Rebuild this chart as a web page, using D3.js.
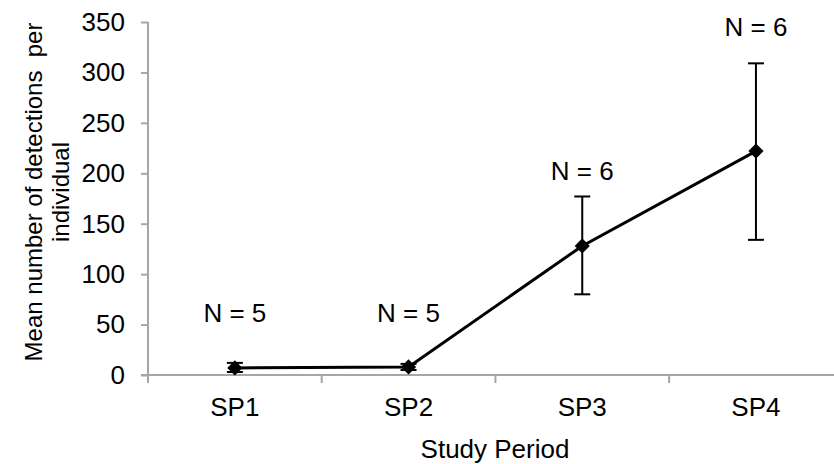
<!DOCTYPE html>
<meta charset="utf-8">
<style>

body {
  margin: 0;
  background: #fff;
}

text {
  font-family: "Liberation Sans", Arial, sans-serif;
  fill: #000;
}

</style>
<body>
<script src="https://d3js.org/d3.v7.min.js"></script>
<script>

var periods = ["SP1", "SP2", "SP3", "SP4"],
    means = [7, 8, 128, 222],
    upper = [12, 11, 177, 309],
    lower = [3, 5, 80, 134],
    sampleLabels = ["N = 5", "N = 5", "N = 6", "N = 6"],
    labelAt = [53, 53, 193, 336],
    yTicks = [0, 50, 100, 150, 200, 250, 300, 350];

var width = 834,
    height = 464,
    plotLeft = 148,
    plotTop = 22,
    plotBottom = 375,
    fontSize = "26px";

var svg = d3.select("body").append("svg")
    .attr("width", width)
    .attr("height", height);

var x = d3.scaleBand()
    .domain(periods)
    .range([plotLeft, plotLeft + 4 * 173.7]);

var y = d3.scaleLinear()
    .domain([0, 350])
    .range([plotBottom, plotTop]);

var axisColor = "#a6a6a6";

// y axis
var yAxis = svg.append("g")
    .attr("transform", "translate(" + plotLeft + ",0)")
    .call(d3.axisLeft(y).tickValues(yTicks).tickSize(7).tickPadding(16));

// x axis
var xAxis = svg.append("g")
    .attr("transform", "translate(0," + plotBottom + ")")
    .call(d3.axisBottom(x).tickSize(0).tickPadding(23));

xAxis.selectAll(".tick").append("line")
    .attr("x1", -x.bandwidth() / 2)
    .attr("x2", -x.bandwidth() / 2)
    .attr("y2", 8)
    .attr("stroke", axisColor)
    .attr("stroke-width", 2);

svg.selectAll(".domain").remove();

svg.append("line")
    .attr("x1", plotLeft)
    .attr("x2", plotLeft)
    .attr("y1", plotTop)
    .attr("y2", plotBottom)
    .attr("stroke", axisColor)
    .attr("stroke-width", 2);

svg.append("line")
    .attr("x1", plotLeft - 7)
    .attr("x2", width)
    .attr("y1", plotBottom)
    .attr("y2", plotBottom)
    .attr("stroke", axisColor)
    .attr("stroke-width", 2);

yAxis.selectAll(".tick line").attr("stroke", axisColor).attr("stroke-width", 2);

svg.selectAll(".tick text")
    .style("font-size", fontSize)
    .attr("font-family", null);

// line
var cx = function(d, i) { return x(periods[i]) + x.bandwidth() / 2; };

svg.append("path")
    .datum(means)
    .attr("fill", "none")
    .attr("stroke", "#000")
    .attr("stroke-width", 3)
    .attr("d", d3.line().x(cx).y(function(d) { return y(d); }));

// error bars
var err = svg.append("g")
    .attr("stroke", "#000")
    .attr("stroke-width", 2);

err.selectAll(".bar")
    .data(means)
  .enter().append("line")
    .attr("x1", cx)
    .attr("x2", cx)
    .attr("y1", function(d, i) { return y(upper[i]); })
    .attr("y2", function(d, i) { return y(lower[i]); });

err.selectAll(".cap-hi")
    .data(upper)
  .enter().append("line")
    .attr("x1", function(d, i) { return cx(d, i) - 8; })
    .attr("x2", function(d, i) { return cx(d, i) + 8; })
    .attr("y1", function(d) { return y(d); })
    .attr("y2", function(d) { return y(d); });

err.selectAll(".cap-lo")
    .data(lower)
  .enter().append("line")
    .attr("x1", function(d, i) { return cx(d, i) - 8; })
    .attr("x2", function(d, i) { return cx(d, i) + 8; })
    .attr("y1", function(d) { return y(d); })
    .attr("y2", function(d) { return y(d); });

// markers
svg.selectAll(".marker")
    .data(means)
  .enter().append("path")
    .attr("d", d3.symbol(d3.symbolSquare, 115))
    .attr("transform", function(d, i) { return "translate(" + cx(d, i) + "," + y(d) + ") rotate(45)"; })
    .attr("fill", "#000");

// sample size labels
svg.selectAll(".nlabel")
    .data(sampleLabels)
  .enter().append("text")
    .attr("x", function(d, i) { return cx(d, i); })
    .attr("y", function(d, i) { return y(labelAt[i]); })
    .attr("text-anchor", "middle")
    .style("font-size", fontSize)
    .text(function(d) { return d; });

// axis titles
svg.append("text")
    .attr("x", 495)
    .attr("y", 458)
    .attr("text-anchor", "middle")
    .style("font-size", fontSize)
    .text("Study Period");

var ytitle = svg.append("text")
    .attr("transform", "translate(0,192) rotate(-90)")
    .attr("text-anchor", "middle")
    .style("font-size", "24px")
    .style("white-space", "pre");

ytitle.append("tspan").attr("x", 0).attr("y", 42).text("Mean number of detections  per");
ytitle.append("tspan").attr("x", 0).attr("y", 69).text("individual");

</script>
